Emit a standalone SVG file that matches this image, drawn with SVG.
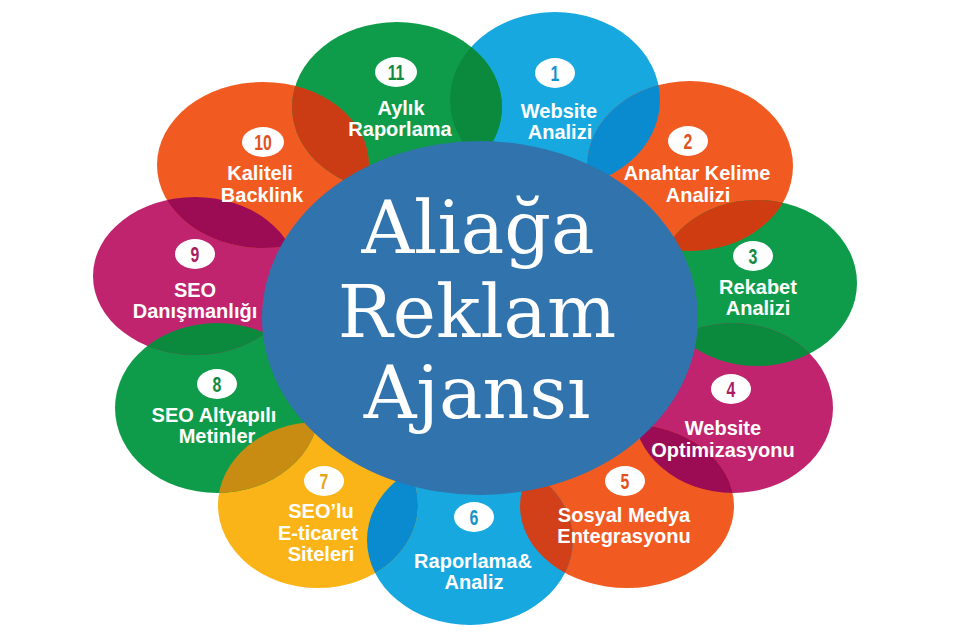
<svg xmlns="http://www.w3.org/2000/svg" width="960" height="640" viewBox="0 0 960 640">
<style>
.lbl{font-family:"Liberation Sans",Arial,sans-serif;font-weight:bold;font-size:20px;fill:#fff;text-anchor:middle}
.num{font-family:"Liberation Sans",Arial,sans-serif;font-weight:bold;font-size:22px;text-anchor:middle}
.badge{fill:#fff}
.title{font-family:"DejaVu Serif","Liberation Serif",serif;font-size:73px;fill:#fff;text-anchor:middle}
.cy{fill:#17a8e0}.gr{fill:#0f9c4a}.or{fill:#f15b22}.mg{fill:#c1246e}.ye{fill:#fbb418}
.tcy{fill:#1792c8}.tgr{fill:#0f8a42}.tor{fill:#e0531f}.tmg{fill:#a81e60}.tye{fill:#e8a414}
</style>
<defs>
<ellipse id="e1" cx="555" cy="100" rx="105" ry="88"/>
<ellipse id="e2" cx="690" cy="166" rx="103" ry="85"/>
<ellipse id="e3" cx="757" cy="283" rx="100" ry="83"/>
<ellipse id="e4" cx="733" cy="408" rx="100" ry="85"/>
<ellipse id="e5" cx="627" cy="506" rx="107" ry="82"/>
<ellipse id="e6" cx="470" cy="540" rx="103" ry="85"/>
<ellipse id="e7" cx="318" cy="505" rx="100" ry="83"/>
<ellipse id="e8" cx="217" cy="408" rx="102" ry="85"/>
<ellipse id="e9" cx="195" cy="276" rx="102" ry="79"/>
<ellipse id="e10" cx="263" cy="165" rx="106" ry="83"/>
<ellipse id="e11" cx="397" cy="107" rx="105" ry="85"/>
<clipPath id="c1"><use href="#e1"/></clipPath>
<clipPath id="c2"><use href="#e2"/></clipPath>
<clipPath id="c3"><use href="#e3"/></clipPath>
<clipPath id="c4"><use href="#e4"/></clipPath>
<clipPath id="c5"><use href="#e5"/></clipPath>
<clipPath id="c6"><use href="#e6"/></clipPath>
<clipPath id="c7"><use href="#e7"/></clipPath>
<clipPath id="c8"><use href="#e8"/></clipPath>
<clipPath id="c9"><use href="#e9"/></clipPath>
<clipPath id="c10"><use href="#e10"/></clipPath>
<clipPath id="c11"><use href="#e11"/></clipPath>
</defs>
<rect width="960" height="640" fill="#fff"/>
<g id="petals">
<use href="#e1" class="cy"/>
<use href="#e2" class="or"/>
<use href="#e3" class="gr"/>
<use href="#e4" class="mg"/>
<use href="#e5" class="or"/>
<use href="#e6" class="cy"/>
<use href="#e7" class="ye"/>
<use href="#e8" class="gr"/>
<use href="#e9" class="mg"/>
<use href="#e10" class="or"/>
<use href="#e11" class="gr"/>
</g>
<g id="overlaps">
<use href="#e11" clip-path="url(#c1)" fill="#0b8a3d"/>
<use href="#e1" clip-path="url(#c2)" fill="#0a8bcf"/>
<use href="#e2" clip-path="url(#c3)" fill="#cf3c12"/>
<use href="#e3" clip-path="url(#c4)" fill="#0b8a3d"/>
<use href="#e4" clip-path="url(#c5)" fill="#9c0c55"/>
<use href="#e5" clip-path="url(#c6)" fill="#d2401a"/>
<use href="#e6" clip-path="url(#c7)" fill="#0a8bcf"/>
<use href="#e7" clip-path="url(#c8)" fill="#c98c12"/>
<use href="#e8" clip-path="url(#c9)" fill="#0b8a3d"/>
<use href="#e9" clip-path="url(#c10)" fill="#9c0c55"/>
<use href="#e10" clip-path="url(#c11)" fill="#cc3c14"/>
</g>
<g id="node-center">
<ellipse cx="480" cy="318" rx="218" ry="177" fill="#3173ad"/>
<text class="title" x="478" y="253">Aliağa</text>
<text class="title" x="477" y="337">Reklam</text>
<text class="title" x="477" y="418">Ajansı</text>
</g>
<g id="node-1">
<ellipse class="badge" cx="555" cy="73" rx="20" ry="15"/>
<text class="num tcy" transform="translate(555,81) scale(0.72,1)">1</text>
<text class="lbl" x="559" y="118">Website</text>
<text class="lbl" x="560" y="139">Analizi</text>
</g>
<g id="node-2">
<ellipse class="badge" cx="688" cy="141" rx="20" ry="15"/>
<text class="num tor" transform="translate(688,149) scale(0.72,1)">2</text>
<text class="lbl" x="697" y="180">Anahtar Kelime</text>
<text class="lbl" x="698" y="202">Analizi</text>
</g>
<g id="node-3">
<ellipse class="badge" cx="753" cy="256" rx="20" ry="15"/>
<text class="num tgr" transform="translate(753,264) scale(0.72,1)">3</text>
<text class="lbl" x="758" y="294">Rekabet</text>
<text class="lbl" x="758" y="315">Analizi</text>
</g>
<g id="node-4">
<ellipse class="badge" cx="731" cy="389" rx="20" ry="15"/>
<text class="num tmg" transform="translate(731,397) scale(0.72,1)">4</text>
<text class="lbl" x="723" y="435">Website</text>
<text class="lbl" x="723" y="457">Optimizasyonu</text>
</g>
<g id="node-5">
<ellipse class="badge" cx="625" cy="481" rx="20" ry="15"/>
<text class="num tor" transform="translate(625,489) scale(0.72,1)">5</text>
<text class="lbl" x="624" y="522">Sosyal Medya</text>
<text class="lbl" x="624" y="543">Entegrasyonu</text>
</g>
<g id="node-6">
<ellipse class="badge" cx="474" cy="517" rx="20" ry="15"/>
<text class="num tcy" transform="translate(474,525) scale(0.72,1)">6</text>
<text class="lbl" x="473" y="568">Raporlama&amp;</text>
<text class="lbl" x="474" y="589">Analiz</text>
</g>
<g id="node-7">
<ellipse class="badge" cx="324" cy="481" rx="20" ry="15"/>
<text class="num tye" transform="translate(324,489) scale(0.72,1)">7</text>
<text class="lbl" x="321" y="518">SEO’lu</text>
<text class="lbl" x="318" y="540">E-ticaret</text>
<text class="lbl" x="321" y="561">Siteleri</text>
</g>
<g id="node-8">
<ellipse class="badge" cx="217" cy="384" rx="20" ry="15"/>
<text class="num tgr" transform="translate(217,392) scale(0.72,1)">8</text>
<text class="lbl" x="214" y="422">SEO Altyapılı</text>
<text class="lbl" x="217" y="443">Metinler</text>
</g>
<g id="node-9">
<ellipse class="badge" cx="195" cy="254" rx="20" ry="15"/>
<text class="num tmg" transform="translate(195,262) scale(0.72,1)">9</text>
<text class="lbl" x="195" y="297">SEO</text>
<text class="lbl" x="195" y="318">Danışmanlığı</text>
</g>
<g id="node-10">
<ellipse class="badge" cx="263" cy="142" rx="21" ry="15"/>
<text class="num tor" transform="translate(263,150) scale(0.72,1)">10</text>
<text class="lbl" x="260" y="180">Kaliteli</text>
<text class="lbl" x="262" y="202">Backlink</text>
</g>
<g id="node-11">
<ellipse class="badge" cx="396" cy="72" rx="21" ry="15"/>
<text class="num tgr" transform="translate(396,80) scale(0.72,1)">11</text>
<text class="lbl" x="401" y="115">Aylık</text>
<text class="lbl" x="400" y="136">Raporlama</text>
</g>
</svg>
